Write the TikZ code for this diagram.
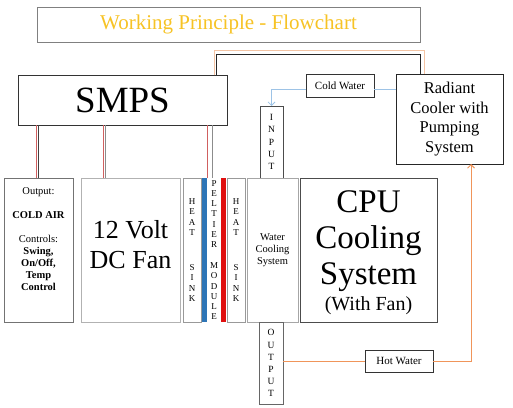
\documentclass[tikz,border=0pt]{standalone}
\usepackage{fontspec}
\setmainfont{Liberation Serif}
\usetikzlibrary{arrows.meta}
\definecolor{titlegold}{HTML}{F7C325}
\definecolor{pblue}{HTML}{2E75B6}
\definecolor{pred}{HTML}{E01010}
\definecolor{lorange}{HTML}{F4C4A4}
\definecolor{horange}{HTML}{F0955A}
\definecolor{cblue}{HTML}{9DC3E6}
\definecolor{wred}{HTML}{D06060}
\begin{document}
\begin{tikzpicture}[x=1pt,y=-1pt,
  box/.style={draw=#1, line width=0.8pt, inner sep=0pt, outer sep=0pt, anchor=north west, align=center},
  box/.default={black!75},
  bar/.style={fill=#1, draw=none, inner sep=0pt, outer sep=0pt, anchor=north west, minimum width=5pt, minimum height=144pt},
  txt/.style={inner sep=0pt, outer sep=0pt, align=center},
  tip/.style={-{Straight Barb[length=3.5pt,width=7pt]}},
  wire/.style={line width=0.8pt}
]
\useasboundingbox (0,0) rectangle (513,407);
\fill[white] (0,0) rectangle (513,407);

% title
\node[box=black!50, minimum width=383pt, minimum height=35pt, font=\fontsize{21}{24}\selectfont, text=titlegold] (title) at (37,7) {Working Principle - Flowchart};

% SMPS
\node[box=black!80, minimum width=209pt, minimum height=50pt, font=\fontsize{37}{40}\selectfont] (smps) at (18,75) {SMPS};

% Radiant cooler
\node[box=black!85, minimum width=107pt, minimum height=90pt, font=\fontsize{16.5}{19.7}\selectfont] (rad) at (396,74) {Radiant\\Cooler with\\Pumping\\System};

% Cold water
\node[box=black!80, minimum width=68pt, minimum height=23pt, font=\fontsize{11}{13}\selectfont] (cw) at (306,74) {Cold Water};

% Input
\node[box=black!70, minimum width=23pt, minimum height=72pt, font=\fontsize{9.5}{12.3}\selectfont] (inp) at (260,106) {I\\N\\P\\U\\T};

% left output box
\node[box=black!55, minimum width=69pt, minimum height=144pt] (outl) at (4,178) {};
\node[txt, anchor=north, font=\fontsize{10.5}{12}\selectfont] (outltxt) at (38.5,188) {Output:\\[12pt]\textbf{COLD AIR}\\[12pt]Controls:\\\textbf{Swing,}\\\textbf{On/Off,}\\\textbf{Temp}\\\textbf{Control}};

% fan
\node[box=black!30, minimum width=99pt, minimum height=144pt] (fan) at (81,178) {};
\node[txt, font=\fontsize{26}{30}\selectfont] (fantxt) at (130.5,245) {12 Volt\\DC Fan};

% heat sink 1
\node[box=black!40, minimum width=18pt, minimum height=144pt, font=\fontsize{9}{10.3}\selectfont] (hs1) at (183,178) {H\\E\\A\\T\\[24.7pt]S\\I\\N\\K};

% peltier
\node[bar=pblue] (blue) at (202,178) {};
\node[inner sep=0pt, outer sep=0pt, anchor=north west, minimum width=13.7pt, minimum height=144pt, align=center, font=\fontsize{9}{10.3}\selectfont] (pelt) at (207.3,178) {P\\E\\L\\T\\I\\E\\R\\[10.3pt]M\\O\\D\\U\\L\\E};
\node[bar=pred] (red) at (221,178) {};

% heat sink 2
\node[box=black!40, minimum width=18pt, minimum height=144pt, font=\fontsize{9}{10.3}\selectfont] (hs2) at (227,178) {H\\E\\A\\T\\[24.7pt]S\\I\\N\\K};

% water cooling
\node[box=black!35, minimum width=51pt, minimum height=144pt, font=\fontsize{10.5}{12}\selectfont] (wcs) at (247,178) {Water\\Cooling\\System};

% CPU
\node[box=black!70, minimum width=137pt, minimum height=144pt] (cpu) at (300,178) {};
\node[txt, anchor=north, font=\fontsize{33}{36}\selectfont] (cputxt) at (368.5,191) {CPU\\Cooling\\System\\[-10pt]\fontsize{20}{22}\selectfont (With Fan)};

% output bottom
\node[box=black!60, minimum width=24pt, minimum height=82pt, font=\fontsize{9.5}{12.1}\selectfont] (outb) at (259,322) {O\\U\\T\\P\\U\\T};

% hot water
\node[box=black!80, minimum width=68pt, minimum height=22pt, font=\fontsize{11}{13}\selectfont] (hw) at (365,350) {Hot Water};

% top wires SMPS -> radiant
\draw[wire, lorange, line width=1pt] ([xshift=-13pt]smps.north east) -- ++(0,-25) -| ([xshift=28pt]rad.north west);
\draw[wire, black!85] ([xshift=-10.5pt]smps.north east) -- ++(0,-21) -| ([xshift=24.5pt]rad.north west);

% bottom wires SMPS -> boxes
\draw[wire, wred] ([xshift=32pt]outl.north west) -- ([xshift=32pt]outl.north west |- smps.south);
\draw[wire, black!75] ([xshift=34pt]outl.north west) -- ([xshift=34pt]outl.north west |- smps.south);
\draw[wire, wred] ([xshift=22.3pt]fan.north west) -- ([xshift=22.3pt]fan.north west |- smps.south);
\draw[wire, black!45] ([xshift=24.3pt]fan.north west) -- ([xshift=24.3pt]fan.north west |- smps.south);
\draw[wire, wred] ([xshift=0pt]pelt.north west) -- ([xshift=0pt]pelt.north west |- smps.south);
\draw[wire, black!45] ([xshift=5.4pt]pelt.north west) -- ([xshift=5.4pt]pelt.north west |- smps.south);

% cold water
\draw[wire, cblue, tip] ([yshift=-3.5pt]cw.west) -| (inp.north);
\draw[wire, cblue] ([yshift=-3.5pt]cw.east) -- ([yshift=-3.5pt]cw.east -| rad.west);

% hot water
\draw[wire, horange, line width=1pt] (hw.west -| outb.east) -- (hw.west);
\draw[wire, horange, line width=1pt, tip] (hw.east) -| ([xshift=75pt]rad.south west);
\end{tikzpicture}
\end{document}
